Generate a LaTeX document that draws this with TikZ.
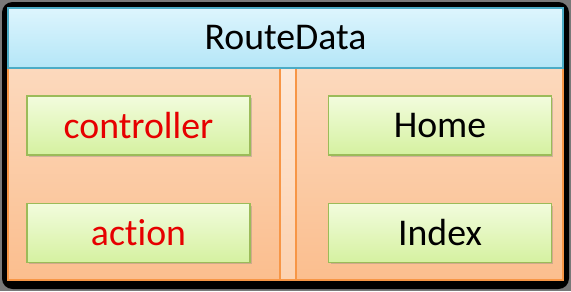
\documentclass[tikz,border=0pt]{standalone}
\usepackage{fontspec}
\setmainfont[RawFeature=-liga]{Carlito}
\usetikzlibrary{shadows}
\definecolor{hdrline}{HTML}{4BACC6}
\definecolor{hdrtop}{HTML}{DDF5FD}
\definecolor{hdrbot}{HTML}{B4E6F7}
\definecolor{orgline}{HTML}{F79646}
\definecolor{orgtop}{HTML}{FCD9BD}
\definecolor{orgbot}{HTML}{FBBE8E}
\definecolor{grnline}{HTML}{9BBB59}
\definecolor{grntop}{HTML}{F2FCDD}
\definecolor{grnbot}{HTML}{D5F1A0}
\definecolor{keyred}{HTML}{E60000}
\begin{document}
\begin{tikzpicture}[x=0.02cm, y=-0.02cm, font=\fontsize{21.5}{24}\selectfont,
    hdr/.style={draw=hdrline, line width=0.8pt, top color=hdrtop, bottom color=hdrbot, inner sep=0pt},
    body/.style={draw=orgline, line width=0.8pt, top color=orgtop, bottom color=orgbot, inner sep=0pt},
    entry/.style={draw=grnline, line width=0.8pt, top color=grntop, bottom color=grnbot, inner sep=0pt,
        minimum width=4.46cm, minimum height=1.18cm, drop shadow={shadow xshift=0.04cm, shadow yshift=-0.04cm, opacity=0.35}},
    key/.style={text=keyred}]
    \fill[gray!95!black] (0,0) rectangle (571,291);
    \fill[black, rounded corners=6] (2,2) rectangle (569,289);

    \node[body, minimum width=11.1cm, minimum height=4.24cm] (main) at (285.5,174) {};
    \node[body, top color=orgtop!60!white, bottom color=orgbot!70!white, minimum width=0.32cm, minimum height=4.24cm] (split) at (288,174) {};
    \node[hdr, minimum width=11.1cm, minimum height=1.2cm] (route) at (285.5,38) {RouteData};

    \node[entry, key] (controller) at (138.5,125.5) {controller};
    \node[entry, key] (action) at (138.5,233) {action};
    \node[entry] (home) at (440,125.5) {Home};
    \node[entry] (index) at (440,233) {Index};
\end{tikzpicture}
\end{document}
